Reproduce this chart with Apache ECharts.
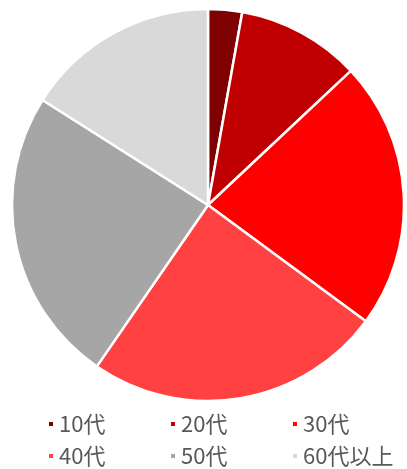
<!DOCTYPE html>
<html><head><meta charset="utf-8">
<script src="https://cdn.jsdelivr.net/npm/echarts@6/dist/echarts.min.js"></script>
<style>html,body{margin:0;padding:0;background:#fff}#c{width:407px;height:469px}</style>
</head><body><div id="c"></div>
<script>
const categories = ['10代','20代','30代','40代','50代','60代以上'];
const values = [2.8, 10.2, 22.1, 24.5, 24.4, 16.0];
const colors = ['#7f0000','#c00000','#ff0000','#ff4141','#a6a6a6','#d9d9d9'];
const chart = echarts.init(document.getElementById('c'), null, {renderer:'canvas'});
chart.setOption({
  animation:false,
  color: colors,
  legend:{
    left:42, top:408, width:365,
    itemWidth:6, itemHeight:6, itemGap:10, icon:'rect',
    textStyle:{fontFamily:'Noto Sans CJK JP', fontSize:22, color:'#595959', width:100, lineHeight:21, padding:[0,0,0,0]},
    data: categories
  },
  series:[{
    type:'pie', center:[208,205], radius:196, startAngle:90, clockwise:true,
    label:{show:false}, labelLine:{show:false},
    itemStyle:{borderColor:'#fff', borderWidth:2.5},
    emphasis:{disabled:true},
    data: categories.map((c,i)=>({name:c, value:values[i]}))
  }]
});
</script></body></html>
